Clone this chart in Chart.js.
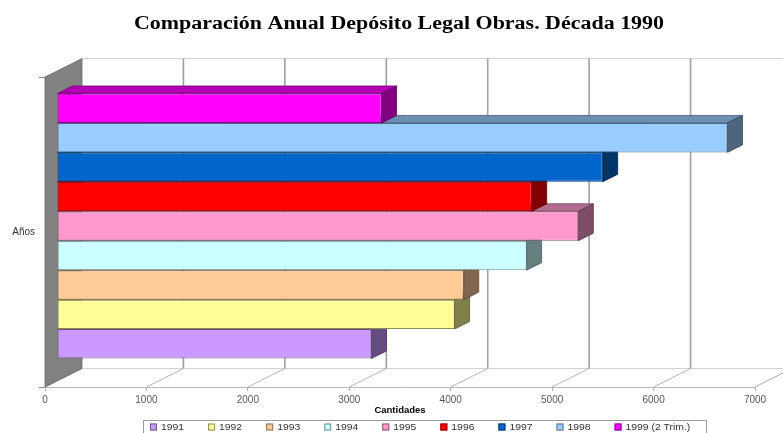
<!DOCTYPE html>
<html>
<head>
<meta charset="utf-8">
<title>Depósito Legal Obras</title>
<script src="https://cdn.jsdelivr.net/npm/chart.js@4.4.0/dist/chart.umd.min.js"></script>
<style>
  html, body { margin: 0; padding: 0; background: #fff; }
  #caixa { width: 783px; height: 433px; }
</style>
</head>
<body>
<div id="caixa"><canvas id="chartObras"></canvas></div>
<script>
// datos
var anos = ['1991', '1992', '1993', '1994', '1995', '1996', '1997', '1998', '1999 (2 Trim.)'];
var cantidades = [3100, 3920, 4010, 4630, 5140, 4680, 5380, 6610, 3200];
var colores = ['#CC99FF', '#FFFF99', '#FFCC99', '#CCFFFF', '#FF99CC', '#FF0000', '#0066CC', '#99CCFF', '#FF00FF'];
var categorias = ['Años'];
var marcasX = [0, 1000, 2000, 3000, 4000, 5000, 6000, 7000];

var titulo = 'Comparación Anual Depósito Legal Obras. Década 1990';
var tituloEjeX = 'Cantidades';

// profundidad del "3D"
var PARED_DX = 37, PARED_DY = -18.5;
var BARRA_DX = 12, BARRA_DY = -6;
var FONDO_DX = 15, FONDO_DY = -7.5;

// los textos van algo estirados a lo ancho
var ESTIRAR = 1.22;

function oscurecer(hex, f) {
    var r = parseInt(hex.substr(1, 2), 16);
    var g = parseInt(hex.substr(3, 2), 16);
    var b = parseInt(hex.substr(5, 2), 16);
    return 'rgb(' + Math.round(r * f) + ',' + Math.round(g * f) + ',' + Math.round(b * f) + ')';
}

function poligono(ctx, pts, relleno, borde) {
    ctx.beginPath();
    ctx.moveTo(pts[0][0], pts[0][1]);
    for (let i = 1; i < pts.length; i++) ctx.lineTo(pts[i][0], pts[i][1]);
    ctx.closePath();
    if (relleno) { ctx.fillStyle = relleno; ctx.fill(); }
    if (borde) { ctx.strokeStyle = borde; ctx.lineWidth = 0.8; ctx.stroke(); }
}

function textoAncho(ctx, txt, x, y) {
    ctx.save();
    ctx.translate(x, y);
    ctx.scale(ESTIRAR, 1);
    ctx.fillText(txt, 0, 0);
    ctx.restore();
    return ctx.measureText(txt).width * ESTIRAR;
}

// el año de arriba va primero para que 1991 quede abajo
var datasets = [];
for (let i = anos.length - 1; i >= 0; i--) {
    datasets.push({
        label: anos[i],
        data: [cantidades[i]],
        backgroundColor: colores[i],
        borderColor: oscurecer(colores[i], 0.55),
        borderWidth: 1,
        borderSkipped: false,
        barPercentage: 1,
        categoryPercentage: 0.855,
        clip: false
    });
}

var caja3d = {
    id: 'caja3d',
    beforeDatasetsDraw(chart) {
        var ctx = chart.ctx;
        var a = chart.chartArea;
        var x = chart.scales.x;
        var fin = x.getPixelForValue(marcasX[marcasX.length - 1]);

        ctx.save();
        // pared del fondo y suelo
        ctx.lineWidth = 1;
        ctx.strokeStyle = '#d2d2d2';
        ctx.beginPath();
        ctx.moveTo(a.left + PARED_DX, a.top + PARED_DY);
        ctx.lineTo(fin + PARED_DX, a.top + PARED_DY);
        ctx.moveTo(a.left + PARED_DX, a.bottom + PARED_DY);
        ctx.lineTo(fin + PARED_DX, a.bottom + PARED_DY);
        ctx.moveTo(fin, a.bottom);
        ctx.lineTo(fin + PARED_DX, a.bottom + PARED_DY);
        ctx.stroke();

        for (let i = 0; i < marcasX.length; i++) {
            var px = x.getPixelForValue(marcasX[i]);
            if (i > 0) {
                ctx.strokeStyle = '#a0a0a0';
                ctx.lineWidth = 1.6;
                ctx.beginPath();
                ctx.moveTo(px + PARED_DX, a.top + PARED_DY);
                ctx.lineTo(px + PARED_DX, a.bottom + PARED_DY);
                ctx.stroke();
            }
            ctx.strokeStyle = '#b4b4b4';
            ctx.lineWidth = 1;
            ctx.beginPath();
            ctx.moveTo(px, a.bottom);
            ctx.lineTo(px + PARED_DX, a.bottom + PARED_DY);
            ctx.stroke();
        }

        // pared izquierda
        poligono(ctx, [
            [a.left, a.top],
            [a.left + PARED_DX, a.top + PARED_DY],
            [a.left + PARED_DX, a.bottom + PARED_DY],
            [a.left, a.bottom]
        ], '#828282', '#6a6a6a');
        ctx.restore();

        ctx.save();
        ctx.translate(BARRA_DX, BARRA_DY);
    },
    afterDatasetDraw(chart, args) {
        var ctx = chart.ctx;
        var color = chart.data.datasets[args.index].backgroundColor;
        args.meta.data.forEach(function (bar) {
            var p = bar.getProps(['x', 'y', 'base', 'height'], true);
            var arriba = p.y - p.height / 2;
            var abajo = p.y + p.height / 2;
            poligono(ctx, [
                [p.base, arriba],
                [p.base + FONDO_DX, arriba + FONDO_DY],
                [p.x + FONDO_DX, arriba + FONDO_DY],
                [p.x, arriba]
            ], oscurecer(color, 0.7), oscurecer(color, 0.45));
            poligono(ctx, [
                [p.x, arriba],
                [p.x + FONDO_DX, arriba + FONDO_DY],
                [p.x + FONDO_DX, abajo + FONDO_DY],
                [p.x, abajo]
            ], oscurecer(color, 0.5), oscurecer(color, 0.35));
        });
    },
    afterDatasetsDraw(chart) {
        chart.ctx.restore();
    },
    afterDraw(chart) {
        var ctx = chart.ctx;
        ctx.save();
        // título
        ctx.fillStyle = '#000';
        ctx.font = 'bold 18px "Liberation Serif"';
        ctx.textAlign = 'center';
        ctx.textBaseline = 'middle';
        textoAncho(ctx, titulo, 399, 24);

        // leyenda
        var izq = 143, arr = 420.5, ancho = 563, alto = 20;
        ctx.strokeStyle = '#9a9a9a';
        ctx.lineWidth = 1;
        ctx.strokeRect(izq + 0.5, arr, ancho, alto);
        ctx.font = '8.5px "Liberation Sans"';
        ctx.textAlign = 'left';
        var cx = izq + 7;
        var cy = 427;
        for (let i = 0; i < anos.length; i++) {
            ctx.fillStyle = colores[i];
            ctx.fillRect(cx, cy - 3.5, 7, 7);
            ctx.strokeStyle = oscurecer(colores[i], 0.55);
            ctx.strokeRect(cx + 0.5, cy - 3, 6, 6);
            ctx.fillStyle = '#333';
            var w = textoAncho(ctx, anos[i], cx + 11, cy + 0.5);
            cx += 11 + w + 24;
        }
        ctx.restore();
    }
};

var ctxObras = document.getElementById('chartObras');

new Chart(ctxObras, {
    type: 'bar',
    data: {
        labels: categorias,
        datasets: datasets
    },
    options: {
        indexAxis: 'y',
        responsive: true,
        maintainAspectRatio: false,
        animation: false,
        layout: {
            padding: { top: 77, right: 28, bottom: 17, left: 0 }
        },
        plugins: {
            legend: { display: false },
            title: { display: false },
            tooltip: { enabled: false }
        },
        scales: {
            x: {
                min: 0,
                max: 7000,
                afterBuildTicks: function (s) {
                    s.ticks = marcasX.map(function (v) { return { value: v }; });
                },
                afterFit: function (s) {
                    s.height = 29;
                    s.paddingLeft = 0;
                    s.paddingRight = 0;
                },
                grid: {
                    drawOnChartArea: false,
                    tickLength: 4,
                    color: '#aaaaaa'
                },
                border: { color: '#bbbbbb' },
                ticks: {
                    padding: 3,
                    color: '#555',
                    font: { family: 'Liberation Sans', size: 10 },
                    callback: function (v) { return String(v); }
                },
                title: {
                    display: true,
                    text: tituloEjeX,
                    color: '#000',
                    padding: 0,
                    font: { family: 'Liberation Sans', size: 9.5, weight: 'bold' }
                }
            },
            y: {
                afterFit: function (s) {
                    s.width = 45;
                },
                grid: {
                    drawOnChartArea: false,
                    offset: true,
                    tickLength: 6,
                    color: '#888888'
                },
                border: { display: false },
                ticks: {
                    padding: 4,
                    color: '#333',
                    font: { family: 'Liberation Sans', size: 10 }
                }
            }
        }
    },
    plugins: [caja3d]
});
</script>
</body>
</html>
